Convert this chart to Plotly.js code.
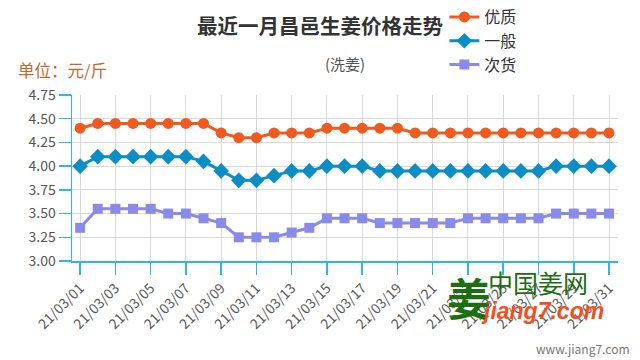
<!DOCTYPE html>
<html>
<head>
<meta charset="utf-8">
<script src="https://cdn.plot.ly/plotly-3.0.1.min.js"></script>
<style>html,body{margin:0;padding:0;background:#fff;}#chart{width:640px;height:360px;}</style>
</head>
<body>
<div id="chart"></div>
<script>
const dates = ["21/03/01","21/03/02","21/03/03","21/03/04","21/03/05","21/03/06","21/03/07","21/03/08","21/03/09","21/03/10",
  "21/03/11","21/03/12","21/03/13","21/03/14","21/03/15","21/03/16","21/03/17","21/03/18","21/03/19","21/03/20",
  "21/03/21","21/03/22","21/03/23","21/03/24","21/03/25","21/03/26","21/03/27","21/03/28","21/03/29","21/03/30","21/03/31"];
const youzhi = [4.40,4.45,4.45,4.45,4.45,4.45,4.45,4.45,4.35,4.30,4.30,4.35,4.35,4.35,4.40,4.40,4.40,4.40,4.40,4.35,
  4.35,4.35,4.35,4.35,4.35,4.35,4.35,4.35,4.35,4.35,4.35];
const yiban = [4.00,4.10,4.10,4.10,4.10,4.10,4.10,4.05,3.95,3.85,3.85,3.90,3.95,3.95,4.00,4.00,4.00,3.95,3.95,3.95,
  3.95,3.95,3.95,3.95,3.95,3.95,3.95,4.00,4.00,4.00,4.00];
const cihuo = [3.35,3.55,3.55,3.55,3.55,3.50,3.50,3.45,3.40,3.25,3.25,3.25,3.30,3.35,3.45,3.45,3.45,3.40,3.40,3.40,
  3.40,3.40,3.45,3.45,3.45,3.45,3.45,3.50,3.50,3.50,3.50];
const seriesNames = ["优质","一般","次货"];
const yTicks = [3.00,3.25,3.50,3.75,4.00,4.25,4.50,4.75];

const FONT = "Noto Sans CJK SC, Noto Sans, sans-serif";
const traces = [
  {x: dates, y: youzhi, name: seriesNames[0], type: "scatter", mode: "lines+markers",
   line: {color: "#f05a1e", width: 3}, marker: {symbol: "circle", size: 11, color: "#f05a1e"}},
  {x: dates, y: yiban, name: seriesNames[1], type: "scatter", mode: "lines+markers",
   line: {color: "#0b8ec6", width: 3}, marker: {symbol: "diamond", size: 12, color: "#0b8ec6"}},
  {x: dates, y: cihuo, name: seriesNames[2], type: "scatter", mode: "lines+markers",
   line: {color: "#8a8ae8", width: 3}, marker: {symbol: "square", size: 10, color: "#8a8ae8"}}
];

const layout = {
  width: 640, height: 360,
  margin: {l: 72, r: 22, t: 95, b: 99},
  paper_bgcolor: "#fff", plot_bgcolor: "#fff",
  font: {family: FONT, color: "#555", size: 12},
  showlegend: true,
  legend: {x: 0.682, xanchor: "left", xref: "paper", yref: "container", y: 1, yanchor: "top",
           font: {size: 16, color: "#333", family: FONT}, itemwidth: 30, tracegroupgap: 0},
  xaxis: {
    type: "category", range: [-0.46, 30.51], tick0: 0, dtick: 2,
    showgrid: true, gridcolor: "#d9d9d9", gridwidth: 1,
    showline: true, linecolor: "#2db7e8", linewidth: 1.5,
    ticks: "outside", ticklen: 12, tickcolor: "#2db7e8", tickwidth: 1.5,
    tickangle: -45, tickfont: {size: 14, color: "#5a5a5a", family: FONT},
    zeroline: false, fixedrange: true
  },
  yaxis: {
    range: [3, 4.75], tickvals: yTicks, ticktext: yTicks.map(v => v.toFixed(2)),
    showgrid: true, gridcolor: "#d9d9d9", gridwidth: 1,
    showline: true, linecolor: "#2db7e8", linewidth: 1.5,
    ticks: "outside", ticklen: 12, tickcolor: "#2db7e8", tickwidth: 1.5,
    tickfont: {size: 14, color: "#555", family: FONT},
    zeroline: false, fixedrange: true
  },
  title: {text: "<b>最近一月昌邑生姜价格走势</b>", x: 0.5, xanchor: "center", y: 0.925, yanchor: "middle",
          font: {size: 20.5, color: "#333", family: FONT}},
  annotations: [
    {text: "(洗姜)", xref: "paper", yref: "paper", x: 0.5, y: 1, yshift: 32,
     xanchor: "center", yanchor: "middle", showarrow: false, font: {size: 15, color: "#555", family: FONT}},
    {text: "单位：元/斤", xref: "paper", yref: "paper", x: 0, y: 1, xshift: -56, yshift: 25,
     xanchor: "left", yanchor: "middle", showarrow: false, font: {size: 16.5, color: "#c4672c", family: FONT}},
    {text: "<b>姜</b>", xref: "paper", yref: "paper", x: 0.683, y: 0, yshift: -36,
     xanchor: "left", yanchor: "middle", showarrow: false, font: {size: 44, color: "#1d6e12", family: FONT}},
    {text: "中国姜网", xref: "paper", yref: "paper", x: 0.7656, y: 0, xshift: -4, yshift: -21,
     xanchor: "left", yanchor: "middle", showarrow: false, font: {size: 25, color: "#1d6e12", family: FONT}},
    {text: "<b><i>jiang7.com</i></b>", xref: "paper", yref: "paper", x: 0.757, y: 0, xshift: -6, yshift: -50,
     xanchor: "left", yanchor: "middle", showarrow: false, font: {size: 23, color: "#f0501e", family: "Liberation Sans, Arial, sans-serif"}},
    {text: "www.jiang7.com", xref: "paper", yref: "paper", x: 1, y: 0, xshift: 14, yshift: -87,
     xanchor: "right", yanchor: "middle", showarrow: false, font: {size: 12, color: "#777", family: FONT}}
  ]
};

Plotly.newPlot("chart", traces, layout, {displayModeBar: false, staticPlot: true});
</script>
</body>
</html>
